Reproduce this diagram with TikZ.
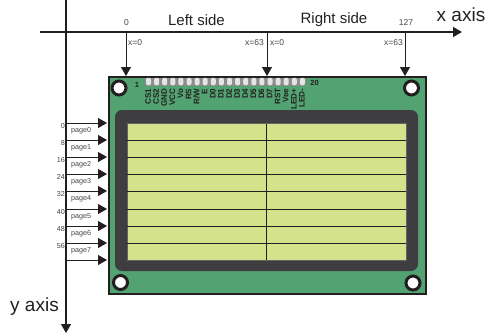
\documentclass[tikz,border=0pt]{standalone}
\usepackage{fontspec}
\setmainfont{Liberation Sans}
\usetikzlibrary{arrows.meta}
\definecolor{boardgreen}{RGB}{82,163,113}
\definecolor{panelgray}{RGB}{62,62,64}
\definecolor{lcdgreen}{RGB}{211,226,139}
\definecolor{inkdark}{RGB}{35,31,32}
\definecolor{labelgray}{RGB}{70,70,70}
\tikzset{
  pxgrid/.style={x=1pt,y=-1pt},
  axis/.style={draw=inkdark,line width=1.2pt,-{Triangle[length=9pt,width=10pt]}},
  pointer/.style={draw=inkdark,line width=0.8pt,-{Triangle[length=9pt,width=10pt]}},
  hole/.style={circle,draw=inkdark,fill=white,line width=3pt,minimum size=14pt,inner sep=0pt},
  toplabel/.style={font=\fontsize{8.5}{9}\selectfont,text=labelgray,inner sep=0pt},
  tinylabel/.style={font=\fontsize{7.2}{8}\selectfont,text=labelgray,inner sep=0pt},
  pagelabel/.style={font=\fontsize{7.2}{8}\selectfont,text=labelgray,inner sep=0pt,anchor=west},
  sidelabel/.style={font=\fontsize{15}{17}\selectfont,text=inkdark,inner sep=0pt},
  axisname/.style={font=\fontsize{19}{21}\selectfont,text=inkdark,inner sep=0pt},
  pinlabel/.style={font=\bfseries\fontsize{8}{9}\selectfont,text=inkdark,inner sep=0pt,rotate=90,anchor=east},
  pinnumber/.style={font=\bfseries\fontsize{7.5}{8}\selectfont,text=inkdark,inner sep=0pt},
  rowline/.style={draw=inkdark,line width=0.7pt},
  pinbead/.style={rectangle,rounded corners=2pt,inner sep=0pt,minimum width=5pt,minimum height=7.5pt,fill=black!10},
}
\begin{document}
\begin{tikzpicture}[pxgrid]
\useasboundingbox (0,0) rectangle (485,335);

% circuit board, bezel and display
\draw[fill=boardgreen,draw=inkdark,line width=2.6pt] (109,77) rectangle (426,294);
\fill[panelgray,rounded corners=7pt] (115,110) rectangle (418,271);
\fill[lcdgreen] (127,123.5) rectangle (406,260);
\draw[draw=inkdark!70,line width=0.7pt] (127,123.5) rectangle (406,260);

% display rows and the split between the two halves
\foreach \yy in {140,157,174,191,209,226,243}
  \draw[rowline] (127,\yy) -- (406,\yy);
\draw[rowline] (266.5,123.5) -- (266.5,260);

% mounting holes
\node[hole] (holeTL) at (119,88) {};
\node[hole] (holeTR) at (411.5,88) {};
\node[hole] (holeBL) at (120.5,282.5) {};
\node[hole] (holeBR) at (413,283) {};

% header pins and their names
\fill[black!45] (145,78) rectangle (306,86);
\foreach \i in {0,...,19}
  \node[pinbead] (pin\i) at ({148.5+8.1*\i},81.5) {};
\foreach \i/\t in {0/CS1,1/CS2,2/GND,3/VCC,4/Vo,5/RS,6/R\slash W,7/E,8/D0,9/D1,10/D2,11/D3,12/D4,13/D5,14/D6,15/D7,16/RST,17/Vee,18/LED+,19/LED-}
  \node[pinlabel] (name\i) at ({148+8.1*\i},88.5) {\t};
\node[pinnumber] (pinfirst) at (137,84.5) {1};
\node[pinnumber] (pinlast) at (314.5,83) {20};

% axes
\coordinate (xstart) at (40,32);
\coordinate (xend) at (462,32);
\coordinate (ystart) at (66,0);
\coordinate (yend) at (66,333);
\draw[axis] (xstart) -- (xend);
\draw[axis] (ystart) -- (yend);
\node[axisname] (xname) at (461,14.5) {x axis};
\node[axisname] (yname) at (34.5,306.5) {y axis};
\node[sidelabel] (leftside) at (196.5,20) {Left side};
\node[sidelabel] (rightside) at (334,20) {Right side};

% column pointers along the x axis
\coordinate (colA) at (126,32);
\coordinate (colB) at (267,32);
\coordinate (colC) at (405,32);
\coordinate (colAend) at (126,76);
\coordinate (colBend) at (267,76);
\coordinate (colCend) at (405,76);
\draw[pointer] (colA) -- (colAend);
\draw[pointer] (colB) -- (colBend);
\draw[pointer] (colC) -- (colCend);
\node[toplabel] (c0) at (126.5,23) {0};
\node[toplabel] (c127) at (406,22.5) {127};
\node[toplabel,anchor=west] (xa) at (128,42.5) {x=0};
\node[toplabel,anchor=east] (xb) at (264,43) {x=63};
\node[toplabel,anchor=west] (xc) at (270,43) {x=0};
\node[toplabel,anchor=east] (xd) at (403,43) {x=63};

% page pointers along the y axis
\foreach \n/\yy/\off in {0/123/0,1/140/8,2/157/16,3/174/24,4/191/32,5/209/40,6/226/48,7/243/56} {
  \coordinate (pagefrom\n) at (66,\yy);
  \coordinate (pageto\n) at (107,\yy);
  \draw[pointer] (pagefrom\n) -- (pageto\n);
  \node[tinylabel,anchor=east] (offset\n) at (65,{\yy+3}) {\off};
  \node[pagelabel] (page\n) at (71,{\yy+8}) {page\n};
}
\coordinate (pagefrom8) at (66,260);
\coordinate (pageto8) at (107,260);
\draw[pointer] (pagefrom8) -- (pageto8);
\end{tikzpicture}
\end{document}
